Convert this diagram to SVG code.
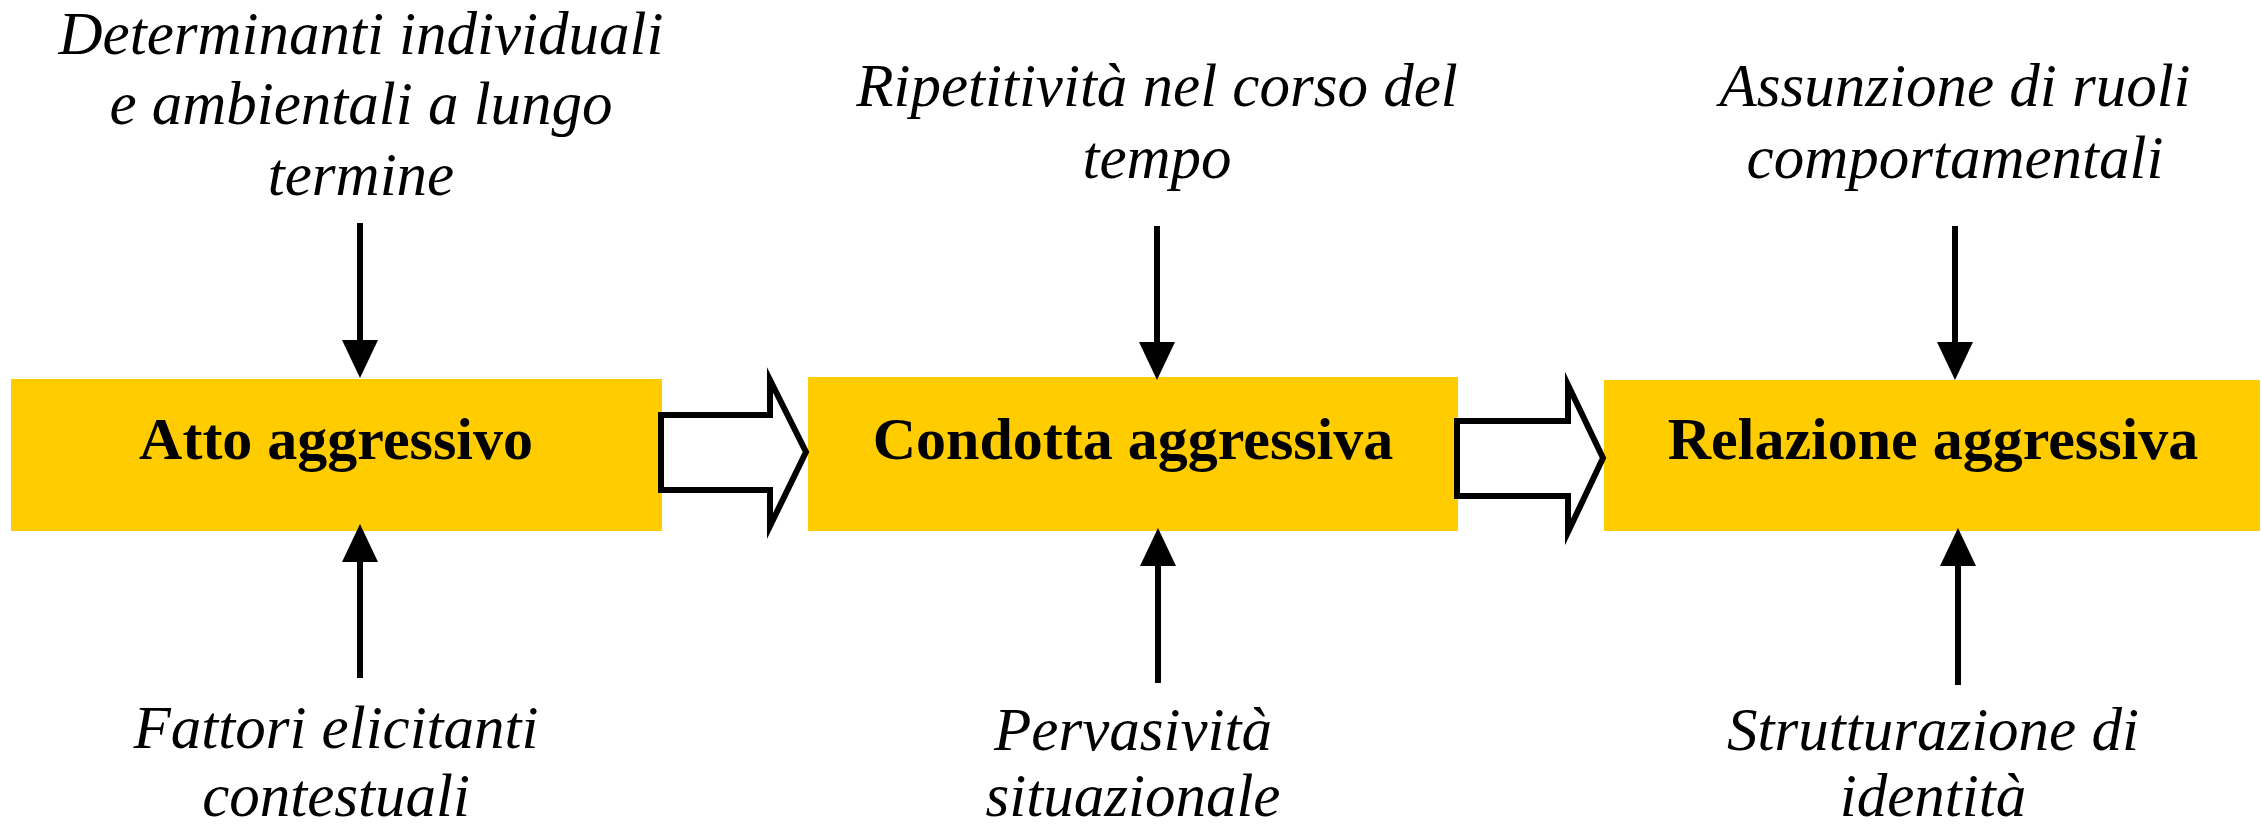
<svg xmlns="http://www.w3.org/2000/svg" width="2262" height="831" viewBox="0 0 2262 831">
<style>
.box{fill:#FFCC00;stroke:none}
.lbl{font-family:"Liberation Serif","Times New Roman",serif;font-size:60px;font-weight:bold;fill:#000;text-anchor:middle}
.note{font-family:"Liberation Serif","Times New Roman",serif;font-size:61px;font-style:italic;fill:#000;text-anchor:middle}
.line{stroke:#000;stroke-width:6;fill:none}
.big{fill:#fff;stroke:#000;stroke-width:6;stroke-linejoin:miter;stroke-miterlimit:10}
</style>
<defs>
<marker id="head" viewBox="0 0 38 36" refX="0" refY="18" markerWidth="38" markerHeight="36" markerUnits="userSpaceOnUse" orient="auto">
<path d="M0,0 L38,18 L0,36 Z" fill="#000"/>
</marker>
</defs>
<rect width="2262" height="831" fill="#fff"/>
<g id="node-atto">
<rect class="box" x="11" y="379" width="651" height="152"/>
<text class="lbl" x="336" y="459">Atto aggressivo</text>
</g>
<g id="node-condotta">
<rect class="box" x="808" y="377" width="650" height="154"/>
<text class="lbl" x="1133" y="459">Condotta aggressiva</text>
</g>
<g id="node-relazione">
<rect class="box" x="1604" y="380" width="656" height="151"/>
<text class="lbl" x="1933" y="459">Relazione aggressiva</text>
</g>
<g id="note-determinanti">
<text class="note" x="361" y="54">Determinanti individuali</text>
<text class="note" x="361" y="124">e ambientali a lungo</text>
<text class="note" x="361" y="195">termine</text>
</g>
<g id="note-fattori">
<text class="note" x="336" y="748">Fattori elicitanti</text>
<text class="note" x="336" y="816">contestuali</text>
</g>
<g id="note-ripetitivita">
<text class="note" x="1157" y="106">Ripetitività nel corso del</text>
<text class="note" x="1157" y="178">tempo</text>
</g>
<g id="note-pervasivita">
<text class="note" x="1133" y="750">Pervasività</text>
<text class="note" x="1133" y="816">situazionale</text>
</g>
<g id="note-assunzione">
<text class="note" x="1955" y="106">Assunzione di ruoli</text>
<text class="note" x="1955" y="178">comportamentali</text>
</g>
<g id="note-strutturazione">
<text class="note" x="1933" y="750">Strutturazione di</text>
<text class="note" x="1933" y="816">identità</text>
</g>
<g id="connectors">
<line class="line" x1="360" y1="223" x2="360" y2="340" marker-end="url(#head)"/>
<line class="line" x1="1157" y1="226" x2="1157" y2="342" marker-end="url(#head)"/>
<line class="line" x1="1955" y1="226" x2="1955" y2="342" marker-end="url(#head)"/>
<line class="line" x1="360" y1="678" x2="360" y2="562" marker-end="url(#head)"/>
<line class="line" x1="1158" y1="683" x2="1158" y2="566" marker-end="url(#head)"/>
<line class="line" x1="1958" y1="685" x2="1958" y2="566" marker-end="url(#head)"/>
<path class="big" d="M661,415 L770,415 L770,380 L806,452 L770,526 L770,490 L661,490 Z"/>
<path class="big" d="M1457,421 L1568,421 L1568,385 L1603,458 L1568,532 L1568,496 L1457,496 Z"/>
</g>
</svg>
